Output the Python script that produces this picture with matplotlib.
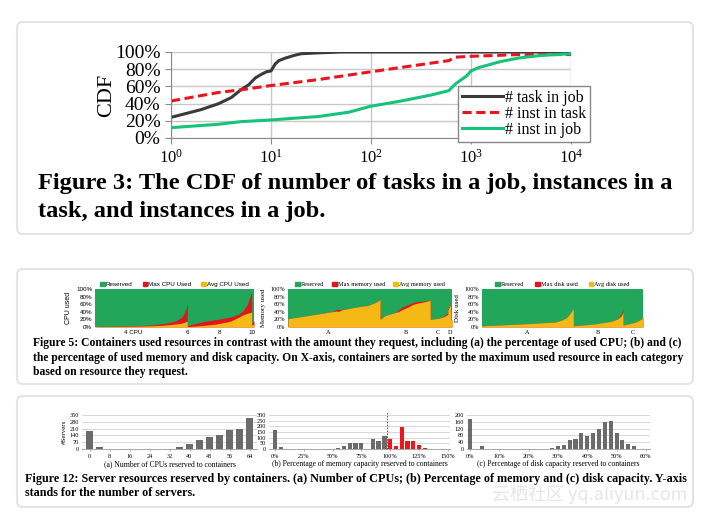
import matplotlib
matplotlib.use("Agg")
import matplotlib.pyplot as plt
from matplotlib.patches import FancyBboxPatch, Patch
from matplotlib.ticker import MultipleLocator, PercentFormatter, NullLocator, FixedLocator

plt.rcParams['font.family'] = ['Liberation Serif', 'DejaVu Serif']
plt.rcParams['mathtext.fontset'] = 'stix'

W, H = 708, 512

# ---- Figure 3 data (CDF) ----
task_x = [1, 2, 3, 4, 5, 6, 7, 8, 9, 10, 11, 12, 14, 17, 20, 30, 50, 10000]
task_y = [0.24, 0.33, 0.40, 0.47, 0.56, 0.62, 0.70, 0.74, 0.77, 0.78, 0.86, 0.90, 0.93, 0.96, 0.98, 0.99, 1.0, 1.0]
inst_task_x = [1, 3, 5, 10, 30, 100, 300, 600, 700, 1000, 3000, 10000]
inst_task_y = [0.43, 0.53, 0.56, 0.61, 0.68, 0.77, 0.85, 0.90, 0.94, 0.95, 0.97, 0.97]
inst_job_x = [1, 3, 5, 10, 30, 60, 100, 200, 400, 600, 700, 900, 1000, 1200, 2000, 3000, 5000, 10000]
inst_job_y = [0.12, 0.16, 0.19, 0.21, 0.25, 0.30, 0.37, 0.43, 0.50, 0.55, 0.63, 0.72, 0.78, 0.82, 0.89, 0.93, 0.96, 0.98]

# ---- Figure 5 data (share of containers, percent) ----
cpu_x = [0, 13.6, 24, 34.6, 41, 47, 51, 54.5, 56, 57.2, 58, 58, 61.8, 68, 76.5, 85, 90, 93, 95.8, 97.5, 98.5, 98.5, 100]
cpu_max = [1, 2, 3, 5, 8, 12, 17, 25, 35, 48, 62, 3, 8, 14, 20, 26, 33, 42, 60, 80, 92, 10, 16]
cpu_avg = [1, 1.5, 2, 3, 4, 6, 8, 10, 12, 14, 15, 1, 2, 4, 8, 15, 25, 32, 36, 38, 40, 5, 8]
cpu_groups = ['4 CPU', '6', '8', '10']
cpu_group_pos = [24, 58, 78.6, 98.7]

mem_x = [0, 12.2, 26.5, 29.6, 30.6, 31.6, 32.7, 40.8, 49, 53, 55.5, 56.1, 56.1, 59.2, 65.3, 67, 69.4, 72,
         75.5, 78, 81.6, 86.7, 86.7, 91.8, 94.9, 97.5, 97.5, 99, 99.4, 100]
mem_avg = [22, 30, 40, 42, 41, 43, 45, 52, 57, 64, 70, 73, 20, 30, 38, 40, 45, 50, 58, 62, 65, 70, 20, 23, 27,
           33, 45, 58, 20, 18]
mem_max = [22, 30, 40, 46, 47, 46, 45, 52, 57, 64, 70, 73, 20, 30, 38, 44, 52, 57, 63, 67, 68, 70, 20, 23, 29,
           37, 47, 60, 20, 18]
mem_groups = ['A', 'B', 'C', 'D']
mem_group_pos = [24.3, 72, 91.6, 99]

disk_x = [0, 24.7, 45.4, 49.5, 52.6, 54.6, 56.1, 56.7, 56.7, 70.1, 80.4, 84.5, 86.6, 87.6, 87.6, 94.8, 97.9, 100]
disk_avg = [3, 8, 13, 18, 25, 35, 45, 48, 3, 8, 15, 22, 30, 40, 5, 12, 18, 25]
disk_max = [3, 8, 13, 18, 25, 35, 45, 48, 3, 8, 15, 23, 35, 46, 5, 12, 18, 25]
disk_groups = ['A', 'B', 'C']
disk_group_pos = [27.9, 71.9, 93.6]

# ---- Figure 12 data (#servers) ----
cpus = [0, 4, 8, 12, 16, 20, 24, 28, 32, 36, 40, 44, 48, 52, 56, 60, 64]
cpu_servers = [185, 20, 0, 0, 0, 0, 0, 0, 3, 17, 48, 89, 123, 140, 192, 205, 315]
mem_pct = [0, 5, 45, 55, 60, 65, 70, 75, 85, 90, 95]
mem_servers = [171, 15, 3, 12, 24, 57, 51, 54, 90, 75, 111]
mem_over_pct = [100, 105, 110, 115, 120, 125, 130, 135]
mem_over_servers = [84, 27, 195, 69, 69, 36, 9, 3]
disk_pct = [0, 4, 22, 24, 26, 28, 30, 32, 34, 36, 38, 40, 42, 44, 46, 48, 50, 52, 54, 56]
disk_servers = [176, 20, 1, 2, 2, 8, 16, 24, 52, 60, 96, 78, 96, 116, 158, 166, 96, 54, 28, 16]

GREEN, RED, YELLOW = '#22a75a', '#e3141b', '#f5b916'
BAR = '#6b6b6b'


def rect(x0, y0, x1, y1):
    return [x0 / W, 1 - y1 / H, (x1 - x0) / W, (y1 - y0) / H]


fig = plt.figure(figsize=(W / 100, H / 100), dpi=100)
bg = fig.add_axes([0, 0, 1, 1], zorder=-5)
bg.set_xlim(0, W)
bg.set_ylim(H, 0)
bg.axis('off')
for (y0, y1) in [(22, 234), (269, 384), (396, 507)]:
    bg.add_patch(FancyBboxPatch((17, y0), 676, y1 - y0, boxstyle="round,pad=0,rounding_size=6",
                                fc='white', ec='#e4e4e4', lw=1.5))

# ---------------- Figure 3 ----------------
ax = fig.add_axes(rect(171, 52, 571, 138))
ax.plot(task_x, task_y, color='#3a3a3a', lw=2.2, label='# task in job')
ax.plot(inst_task_x, inst_task_y, color='#e8141e', lw=2.2, ls=(0, (3, 1.5)), label='# inst in task')
ax.plot(inst_job_x, inst_job_y, color='#17c27a', lw=2.2, label='# inst in job')
ax.set_xscale('log')
ax.set_xlim(1, 1e4)
ax.set_ylim(0, 1)
ax.xaxis.set_minor_locator(NullLocator())
ax.yaxis.set_major_locator(MultipleLocator(0.2))
ax.yaxis.set_major_formatter(PercentFormatter(1, decimals=0))
ax.grid(True, color='#c8c8c8', lw=1)
ax.set_axisbelow(True)
for s in ['top', 'right']:
    ax.spines[s].set_visible(False)
for s in ['left', 'bottom']:
    ax.spines[s].set_color('#8a8a8a')
ax.tick_params(axis='y', labelsize=14, length=4, color='#8a8a8a')
ax.tick_params(axis='x', labelsize=12, length=4, color='#8a8a8a', pad=4)
ax.set_ylabel('CDF', fontsize=16, labelpad=-1)
ax.legend(loc='lower right', bbox_to_anchor=(590 / W, 1 - 142 / H), bbox_transform=fig.transFigure,
          fontsize=11.5, labelspacing=0.0, handlelength=2.6, handletextpad=0.1, borderpad=0.25,
          borderaxespad=0, fancybox=False, edgecolor='#888888', framealpha=1)

bg.text(38, 184, 'Figure 3: The CDF of number of tasks in a job, instances in a', fontsize=17.6,
        weight='bold', va='center')
bg.text(38, 211, 'task, and instances in a job.', fontsize=17.6, weight='bold', va='center')


# ---------------- Figure 5 ----------------
def usage(r, x, mx, avg, groups, gpos, ylabel, names, fam, colsp):
    a = fig.add_axes(r)
    a.fill_between([0, 100], 0, 100, color=GREEN, lw=0)
    a.fill_between(x, 0, mx, color=RED, lw=0)
    a.fill_between(x, 0, avg, color=YELLOW, lw=0)
    a.set_xlim(0, 100)
    a.set_ylim(0, 100)
    a.yaxis.set_major_locator(MultipleLocator(20))
    a.yaxis.set_major_formatter(PercentFormatter(100, decimals=0))
    a.set_xticks(gpos)
    a.set_xticklabels(groups, family=fam)
    for lab in a.get_yticklabels():
        lab.set_family(fam)
    a.tick_params(labelsize=4.5, length=0, pad=2)
    for s in a.spines.values():
        s.set_visible(False)
    a.set_ylabel(ylabel, fontsize=5, family=fam, labelpad=3)
    hs = [Patch(color=c) for c in (GREEN, RED, YELLOW)]
    a.legend(hs, names, loc='lower center', bbox_to_anchor=(0.5, 0.97), ncol=3, frameon=False,
             prop={'family': fam, 'size': 4.5}, handlelength=0.7, handleheight=0.7,
             handletextpad=0.2, columnspacing=colsp, borderpad=0)
    return a


usage(rect(95, 289, 254, 327), cpu_x, cpu_max, cpu_avg, cpu_groups, cpu_group_pos, 'CPU used',
      ['Reserved', 'Max CPU Used', 'Avg CPU Used'], 'Liberation Sans', 1.6)
usage(rect(288, 289, 452, 327), mem_x, mem_max, mem_avg, mem_groups, mem_group_pos, 'Memory used',
      ['Reserved', 'Max memory used', 'Avg memory used'], 'Liberation Serif', 1.3)
usage(rect(482, 289, 643, 327), disk_x, disk_max, disk_avg, disk_groups, disk_group_pos, 'Disk used',
      ['Reserved', 'Max disk used', 'Avg disk used'], 'Liberation Serif', 1.8)

cap5 = ['Figure 5: Containers used resources in contrast with the amount they request, including (a) the percentage of used CPU; (b) and (c)',
        'the percentage of used memory and disk capacity. On X-axis, containers are sorted by the maximum used resource in each category',
        'based on resource they request.']
for i, line in enumerate(cap5):
    bg.text(33, 343 + i * 14.5, line, fontsize=8.35, weight='bold', va='center')


# ---------------- Figure 12 ----------------
def bars(r, x, y, width, xlim, ymax, ystep, xticks, xfmt, xlabel):
    a = fig.add_axes(r)
    a.bar(x, y, width=width, color=BAR, zorder=2)
    a.set_xlim(*xlim)
    a.set_ylim(0, ymax)
    a.yaxis.set_major_locator(MultipleLocator(ystep))
    a.xaxis.set_major_locator(FixedLocator(xticks))
    a.set_xticklabels([xfmt(t) for t in xticks])
    a.grid(axis='y', color='#d0d0d0', lw=0.6, zorder=0)
    for s in ['top', 'right', 'left']:
        a.spines[s].set_visible(False)
    a.spines['bottom'].set_color('#999999')
    a.spines['bottom'].set_linewidth(0.6)
    a.tick_params(labelsize=4.5, length=0, pad=2)
    a.tick_params(axis='x', length=1.5, color='#999999', width=0.5)
    a.set_xlabel(xlabel, fontsize=5.5, labelpad=1)
    return a


a1 = bars(rect(82, 415, 257, 449), cpus, cpu_servers, 3, (-3, 67), 350, 70, list(range(0, 65, 8)),
          lambda t: str(t), '(a) Number of CPUs reserved to containers')
a1.set_ylabel('#Servers', fontsize=5, labelpad=2)

a2 = bars(rect(269, 415, 450, 449), mem_pct, mem_servers, 3.7, (-5.2, 152), 300, 50,
          list(range(0, 151, 25)), lambda t: '%d%%' % t,
          '(b) Percentage of memory capacity reserved to containers')
a2.bar(mem_over_pct, mem_over_servers, width=3.7, color='#f0141c', zorder=2)
a2.axvline(97, color='#e3141b', lw=0.7, ls=(0, (1.5, 1.5)), ymax=1.1, clip_on=False, zorder=3)

bars(rect(467, 415, 650, 449), disk_pct, disk_servers, 1.4, (-1, 61.4), 200, 40, list(range(0, 61, 10)),
     lambda t: '%d%%' % t, '(c) Percentage of disk capacity reserved to containers')

cap12 = ['Figure 12: Server resources reserved by containers. (a) Number of CPUs; (b) Percentage of memory and (c) disk capacity. Y-axis',
         'stands for the number of servers.']
for i, line in enumerate(cap12):
    bg.text(25, 479 + i * 14, line, fontsize=8.7, weight='bold', va='center')

bg.text(688, 494, '云栖社区 yq.aliyun.com', fontsize=13, color='#e6e6e6', ha='right', va='center',
        family=['Noto Sans CJK SC', 'DejaVu Sans'], zorder=5)

fig.savefig('out.png', dpi=100)
